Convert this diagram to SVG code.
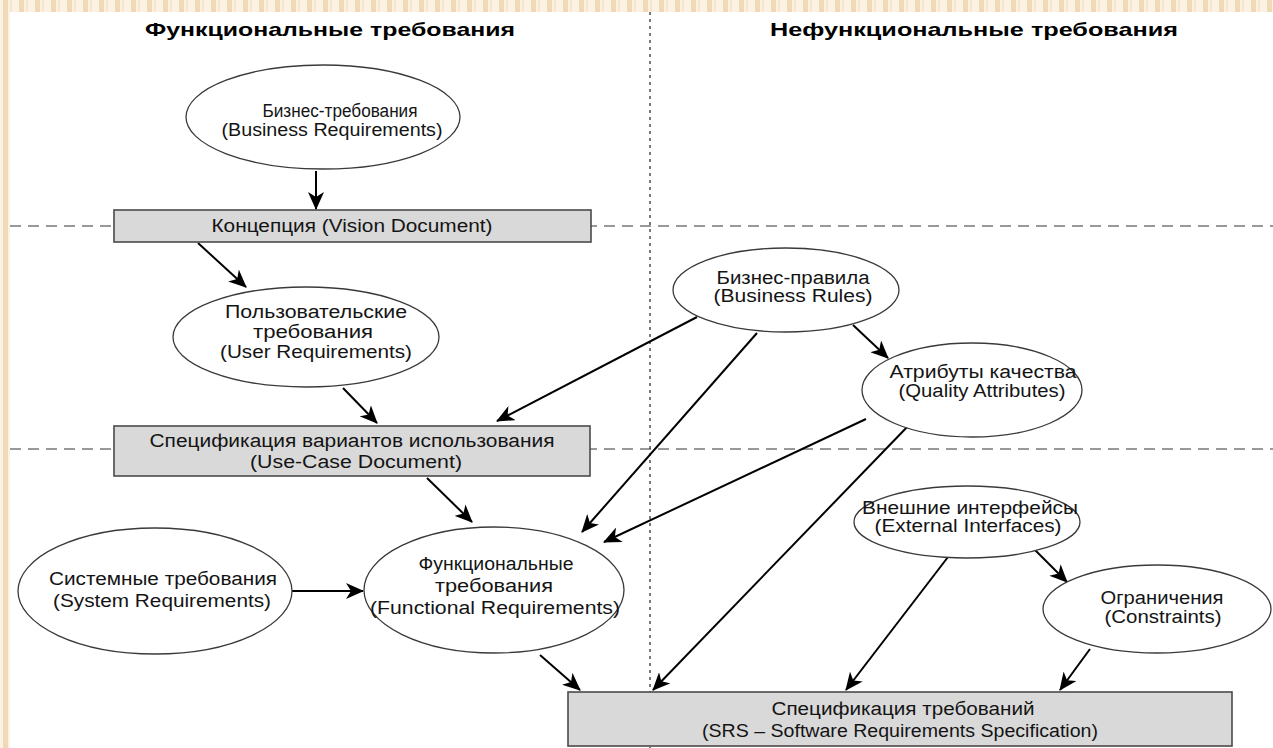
<svg xmlns="http://www.w3.org/2000/svg" width="1273" height="748" viewBox="0 0 1273 748">
  <style>
    .t { font-family: "Liberation Sans", Arial, sans-serif; font-size: 18px; fill: #141414; text-anchor: middle; }
    .h { font-family: "Liberation Sans", Arial, sans-serif; font-size: 18.5px; font-weight: bold; fill: #000; text-anchor: middle; }
    .node ellipse { fill: #fff; stroke: #3a3a3a; stroke-width: 1.3; }
    .node rect { fill: #d9d9d9; stroke: #4a4a4a; stroke-width: 1.6; }
    .sep-v { stroke: #222; stroke-width: 1.2; stroke-dasharray: 3 4; }
    .sep-h { stroke: #333; stroke-width: 1; stroke-dasharray: 11 7; }
    .edge line { stroke: #000; stroke-width: 2; marker-end: url(#arrow); }
  </style>
  <defs>
    <pattern id="stripes" width="16" height="16" patternUnits="userSpaceOnUse">
      <rect width="16" height="16" fill="#fbf2e3"/>
      <rect x="3" width="5" height="16" fill="#efd9b6"/>
      <rect x="10" width="2" height="16" fill="#f5e5cc"/>
    </pattern>
    <marker id="arrow" viewBox="0 0 18 16" markerWidth="18" markerHeight="16" refX="17" refY="8" orient="auto" markerUnits="userSpaceOnUse">
      <path d="M0,0 L18,8 L0,16 L5,8 z" fill="#000"/>
    </marker>
  </defs>

  <!-- slide background with striped border -->
  <rect width="1273" height="748" fill="url(#stripes)"/>
  <rect x="10" y="12" width="1263" height="736" fill="#fff"/>

  <!-- column headings -->
  <text class="h" x="330" y="36" textLength="370" lengthAdjust="spacingAndGlyphs">Функциональные требования</text>
  <text class="h" x="974" y="36" textLength="408" lengthAdjust="spacingAndGlyphs">Нефункциональные требования</text>

  <!-- separators -->
  <g id="separators">
    <line class="sep-v" x1="650" y1="12" x2="650" y2="748"/>
    <line class="sep-h" x1="10" y1="226" x2="1273" y2="226"/>
    <line class="sep-h" x1="10" y1="449" x2="1273" y2="449"/>
  </g>

  <!-- connectors -->
  <g id="connectors" class="edge">
    <line x1="316" y1="171" x2="316" y2="209"/>
    <line x1="198" y1="243" x2="246" y2="287"/>
    <line x1="343" y1="388" x2="377" y2="423"/>
    <line x1="697" y1="317" x2="497" y2="421"/>
    <line x1="427" y1="478" x2="472" y2="522"/>
    <line x1="757" y1="333" x2="582" y2="532"/>
    <line x1="866" y1="419" x2="604" y2="542"/>
    <line x1="910" y1="424" x2="653" y2="690"/>
    <line x1="292" y1="591" x2="363" y2="591"/>
    <line x1="540" y1="655" x2="580" y2="690"/>
    <line x1="853" y1="325" x2="888" y2="358"/>
    <line x1="1033" y1="548" x2="1067" y2="582"/>
    <line x1="948" y1="557" x2="846" y2="690"/>
    <line x1="1090" y1="649" x2="1060" y2="690"/>
  </g>

  <g id="business-requirements" class="node">
    <ellipse cx="323" cy="117" rx="137" ry="52"/>
    <text class="t" x="340" y="117" textLength="155" lengthAdjust="spacingAndGlyphs">Бизнес-требования</text>
    <text class="t" x="332" y="136" textLength="221" lengthAdjust="spacingAndGlyphs">(Business Requirements)</text>
  </g>

  <g id="vision-document" class="node">
    <rect x="114" y="210" width="477" height="32"/>
    <text class="t" x="352" y="232" textLength="281" lengthAdjust="spacingAndGlyphs">Концепция (Vision Document)</text>
  </g>

  <g id="user-requirements" class="node">
    <ellipse cx="306" cy="337" rx="133" ry="50"/>
    <text class="t" x="316" y="318" textLength="182" lengthAdjust="spacingAndGlyphs">Пользовательские</text>
    <text class="t" x="313" y="338" textLength="120" lengthAdjust="spacingAndGlyphs">требования</text>
    <text class="t" x="316" y="358" textLength="192" lengthAdjust="spacingAndGlyphs">(User Requirements)</text>
  </g>

  <g id="use-case-document" class="node">
    <rect x="114" y="426" width="476" height="50"/>
    <text class="t" x="352" y="447" textLength="405" lengthAdjust="spacingAndGlyphs">Спецификация вариантов использования</text>
    <text class="t" x="356" y="468" textLength="212" lengthAdjust="spacingAndGlyphs">(Use-Case Document)</text>
  </g>

  <g id="business-rules" class="node">
    <ellipse cx="786" cy="290" rx="113" ry="42"/>
    <text class="t" x="793" y="284" textLength="153" lengthAdjust="spacingAndGlyphs">Бизнес-правила</text>
    <text class="t" x="793" y="302" textLength="159" lengthAdjust="spacingAndGlyphs">(Business Rules)</text>
  </g>

  <g id="quality-attributes" class="node">
    <ellipse cx="972" cy="390" rx="110" ry="47"/>
    <text class="t" x="983" y="378" textLength="187" lengthAdjust="spacingAndGlyphs">Атрибуты качества</text>
    <text class="t" x="982" y="397" textLength="167" lengthAdjust="spacingAndGlyphs">(Quality Attributes)</text>
  </g>

  <g id="system-requirements" class="node">
    <ellipse cx="155" cy="591" rx="137" ry="63"/>
    <text class="t" x="163" y="585" textLength="228" lengthAdjust="spacingAndGlyphs">Системные требования</text>
    <text class="t" x="162" y="607" textLength="218" lengthAdjust="spacingAndGlyphs">(System Requirements)</text>
  </g>

  <g id="functional-requirements" class="node">
    <ellipse cx="494" cy="590" rx="130" ry="63"/>
    <text class="t" x="496" y="570" textLength="155" lengthAdjust="spacingAndGlyphs">Функциональные</text>
    <text class="t" x="494" y="592" textLength="118" lengthAdjust="spacingAndGlyphs">требования</text>
    <text class="t" x="495" y="614" textLength="250" lengthAdjust="spacingAndGlyphs">(Functional Requirements)</text>
  </g>

  <g id="external-interfaces" class="node">
    <ellipse cx="967" cy="522" rx="113" ry="36"/>
    <text class="t" x="970" y="514" textLength="216" lengthAdjust="spacingAndGlyphs">Внешние интерфейсы</text>
    <text class="t" x="968" y="532" textLength="187" lengthAdjust="spacingAndGlyphs">(External Interfaces)</text>
  </g>

  <g id="constraints" class="node">
    <ellipse cx="1157" cy="609" rx="114" ry="44"/>
    <text class="t" x="1162" y="604" textLength="123" lengthAdjust="spacingAndGlyphs">Ограничения</text>
    <text class="t" x="1163" y="623" textLength="117" lengthAdjust="spacingAndGlyphs">(Constraints)</text>
  </g>

  <g id="srs" class="node">
    <rect x="568" y="692" width="664" height="54"/>
    <text class="t" x="903" y="715" textLength="263" lengthAdjust="spacingAndGlyphs">Спецификация требований</text>
    <text class="t" x="900" y="737" textLength="396" lengthAdjust="spacingAndGlyphs">(SRS – Software Requirements Specification)</text>
  </g>
</svg>
